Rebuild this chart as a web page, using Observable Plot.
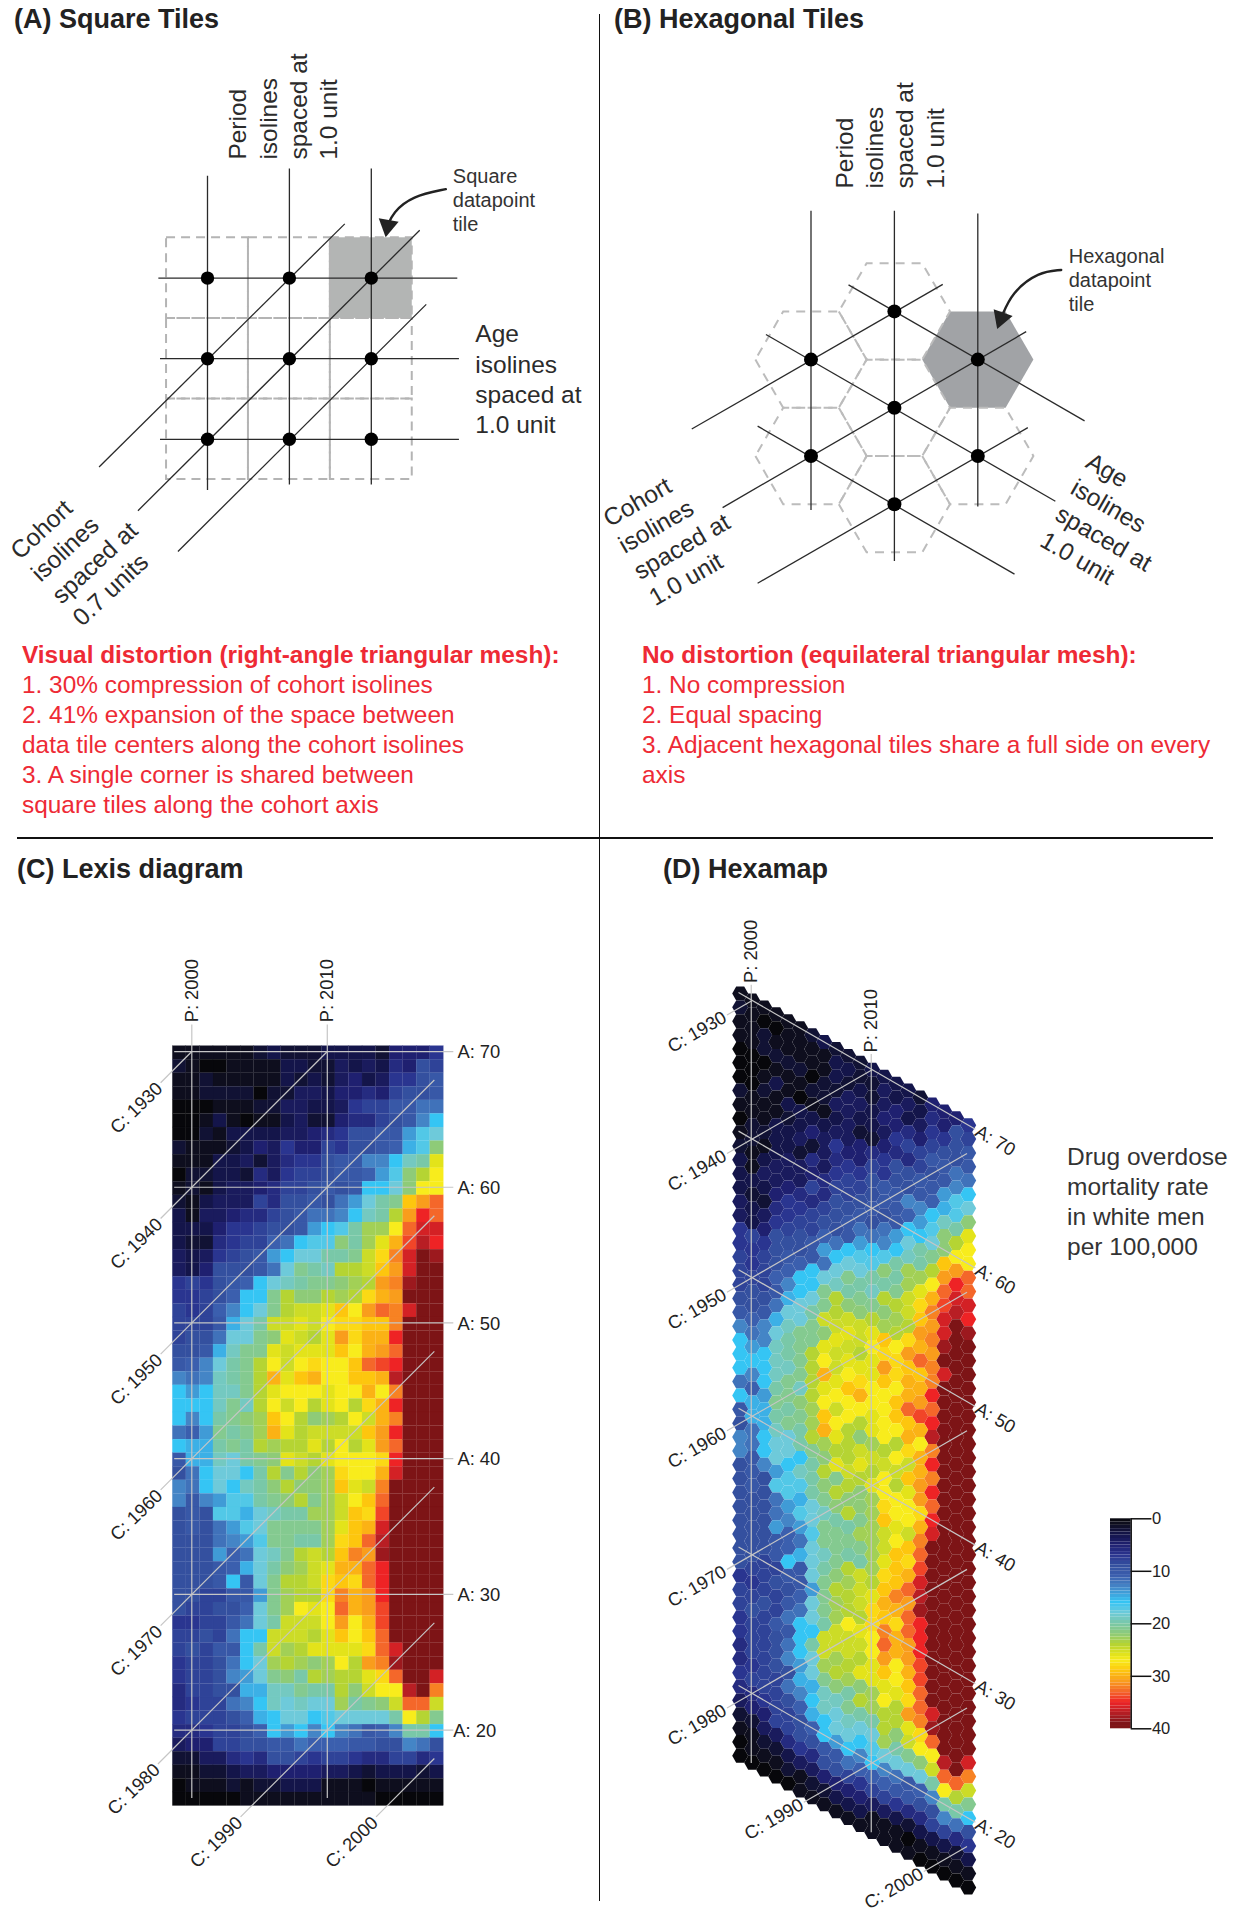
<!DOCTYPE html>
<html><head><meta charset="utf-8">
<script src="https://cdn.jsdelivr.net/npm/d3@7"></script>
<script src="https://cdn.jsdelivr.net/npm/@observablehq/plot@0.6"></script>
<style>
html,body{margin:0;padding:0;background:#fff}
#page{position:relative;width:1242px;height:1920px;overflow:hidden;font-family:"Liberation Sans",Arial,sans-serif}
.abs{position:absolute;white-space:pre}
.head{font-weight:700;font-size:27px;line-height:32px;color:#222}
.red{color:#ee2a35;font-size:24.4px;line-height:30px}
.red b{font-size:24.4px}
.rule{position:absolute;background:#111}
.note{color:#333;font-size:24.5px;line-height:30px}
</style></head><body><div id="page"></div>
<script>
/* ---------- headings & texts ---------- */
const headA="(A) Square Tiles", headB="(B) Hexagonal Tiles", headC="(C) Lexis diagram", headD="(D) Hexamap";
const redTitleA="Visual distortion (right-angle triangular mesh):";
const redLinesA=["1. 30% compression of cohort isolines","2. 41% expansion of the space between","data tile centers along the cohort isolines","3. A single corner is shared between","square tiles along the cohort axis"];
const redTitleB="No distortion (equilateral triangular mesh):";
const redLinesB=["1. No compression","2. Equal spacing","3. Adjacent hexagonal tiles share a full side on every","axis"];
const legendTitle="Drug overdose\nmortality rate\nin white men\nper 100,000";

/* ---------- mortality rate per 100,000, by age (rows) and period (columns) ---------- */
const periods=[1999,2000,2001,2002,2003,2004,2005,2006,2007,2008,2009,2010,2011,2012,2013,2014,2015,2016,2017,2018];
const age70=[1,1,1,1,1,1,2,3,2,2,2,3,3,3,3,2,5,5,5,7];
const age69=[2,1,0,0,1,1,1,1,3,3,2,2,4,3,4,3,6,5,9,8];
const age68=[1,1,2,1,1,1,1,1,3,2,3,2,4,5,3,4,7,7,9,10];
const age67=[1,1,2,2,2,2,0,2,2,4,4,3,5,5,6,5,8,9,9,10];
const age66=[0,0,0,1,1,1,2,2,4,4,3,3,4,7,8,8,10,10,12,12];
const age65=[0,0,1,3,1,0,1,1,3,4,2,2,5,6,6,8,9,10,13,16];
const age64=[0,0,2,1,3,3,3,3,4,4,5,6,7,9,9,10,10,14,17,18];
const age63=[2,1,1,1,2,3,5,4,7,5,5,8,7,9,9,10,11,15,17,22];
const age62=[1,1,1,3,3,4,2,4,6,7,7,9,10,10,13,13,16,19,20,26];
const age61=[0,2,2,3,3,2,6,4,7,8,8,9,10,10,11,14,17,22,24,27];
const age60=[1,2,1,3,4,4,5,6,8,8,9,10,9,10,16,16,18,22,27,27];
const age59=[2,1,3,4,4,4,8,6,9,9,10,9,12,14,18,20,21,29,31,33];
const age58=[3,1,4,4,5,6,6,8,9,10,12,12,13,16,19,20,24,31,35,33];
const age57=[3,3,3,5,7,7,8,9,9,10,14,16,17,20,23,23,27,33,36,36];
const age56=[3,2,2,6,7,8,8,11,12,16,17,17,22,20,23,26,30,34,37,35];
const age55=[4,3,4,7,8,9,10,14,16,18,18,20,20,21,25,28,32,36,40,38];
const age54=[4,3,5,9,9,9,10,12,18,21,20,19,24,24,25,29,31,36,40,40];
const age53=[7,8,7,9,10,11,16,18,19,20,21,21,22,23,24,31,32,38,40,40];
const age52=[7,7,8,9,11,16,16,21,24,22,22,24,23,24,28,30,31,40,40,40];
const age51=[8,7,8,11,13,16,18,21,24,25,25,26,29,27,31,33,32,36,40,40];
const age50=[8,8,8,10,15,18,20,25,25,26,25,27,28,28,29,29,32,40,40,40];
const age49=[8,9,9,12,18,18,21,22,26,25,24,26,31,28,30,30,35,40,40,40];
const age48=[9,9,10,15,19,21,21,26,25,26,26,26,29,27,30,31,33,40,40,40];
const age47=[10,11,13,18,20,21,24,27,25,27,28,27,27,29,33,34,35,39,40,40];
const age46=[13,12,13,19,20,21,24,30,26,29,30,27,27,29,29,30,37,40,40,40];
const age45=[16,14,16,19,19,21,24,26,27,27,27,26,27,27,30,27,32,40,40,40];
const age44=[16,16,16,19,21,19,24,27,25,27,24,26,27,24,28,30,35,40,40,40];
const age43=[16,13,16,20,21,22,23,29,27,24,22,23,24,27,25,30,32,40,40,40];
const age42=[12,11,14,21,20,21,23,30,26,24,25,25,25,25,29,31,35,40,40,40];
const age41=[16,15,15,20,21,20,24,23,24,24,26,24,27,24,26,31,33,40,40,40];
const age40=[10,15,15,19,18,20,21,22,26,25,24,26,27,27,27,28,35,40,40,40];
const age39=[9,12,16,18,18,16,20,24,21,24,22,23,28,27,27,30,36,40,40,40];
const age38=[13,12,16,18,16,19,20,22,24,22,22,23,29,26,25,32,40,40,40,40];
const age37=[13,10,13,14,17,17,20,21,22,24,21,23,25,27,29,33,40,40,40,40];
const age36=[9,10,9,17,17,15,18,19,20,20,23,23,25,29,28,34,40,40,40,40];
const age35=[9,10,9,12,14,17,18,21,21,21,21,23,26,29,30,36,40,40,40,40];
const age34=[9,9,9,12,13,14,17,21,21,20,20,23,28,29,33,37,40,40,40,40];
const age33=[9,9,9,14,11,12,18,19,21,24,25,24,29,32,31,38,40,40,40,40];
const age32=[9,9,9,10,11,15,18,20,22,23,25,26,30,30,33,35,40,40,40,40];
const age31=[9,9,9,10,16,10,18,21,24,24,25,28,29,28,33,35,40,40,40,40];
const age30=[9,9,8,8,10,10,14,21,23,24,24,28,32,30,31,35,40,40,40,40];
const age29=[9,8,8,9,9,11,18,21,23,27,26,27,33,30,31,34,40,40,40,40];
const age28=[7,7,8,8,10,12,18,20,25,25,25,27,31,27,30,34,40,40,40,40];
const age27=[8,8,9,8,12,16,16,25,25,25,24,26,29,27,29,33,40,40,40,40];
const age26=[8,9,8,10,10,16,20,25,23,24,26,26,26,26,28,33,36,40,40,40];
const age25=[7,8,8,9,12,16,18,23,24,23,22,23,27,24,31,32,38,40,40,40];
const age24=[7,8,8,9,13,14,18,21,22,20,24,23,24,24,26,28,33,40,40,36];
const age23=[6,8,8,9,9,15,15,19,19,21,20,20,24,22,25,27,27,37,40,32];
const age22=[6,7,8,8,12,13,16,19,18,19,18,18,23,20,21,22,25,33,33,25];
const age21=[7,8,8,8,9,11,15,16,18,18,16,17,18,18,18,18,20,27,24,21];
const age20=[6,6,7,8,8,9,11,16,14,16,13,16,13,12,10,11,13,20,20,16];
const age19=[4,5,5,8,8,9,9,10,10,12,11,11,11,10,10,9,9,13,12,9];
const age18=[2,2,4,4,6,7,6,9,9,8,7,8,8,7,6,6,8,8,6,7];
const age17=[1,1,2,2,3,4,4,5,5,5,5,4,4,3,2,3,3,3,2,3];
const age16=[0,1,1,1,2,1,2,2,3,3,3,1,1,1,0,1,1,1,1,1];
const age15=[0,0,0,0,0,1,1,1,1,1,1,1,1,1,1,0,0,0,0,0];
const ageRows=[age70,age69,age68,age67,age66,age65,age64,age63,age62,age61,age60,age59,age58,age57,age56,age55,age54,age53,age52,age51,age50,age49,age48,age47,age46,age45,age44,age43,age42,age41,age40,age39,age38,age37,age36,age35,age34,age33,age32,age31,age30,age29,age28,age27,age26,age25,age24,age23,age22,age21,age20,age19,age18,age17,age16,age15];
const cells=ageRows.flatMap((row,i)=>row.map((rate,j)=>({age:70-i,period:periods[j],rate})));

/* ---------- colour scale ---------- */
const colorStops=[0,1,3,5,7,9,11,13,15,16,18,20,22,24,26,27,29,31,33,35,37,39,40];
const colorRamp=["#07070b","#0e0e1e","#14154a","#1f2070","#2a3590","#34509f","#3b5fae","#4485c6","#3cb0e6","#35c5f4","#6ecada","#79c8a8","#8ecb78","#b5d433","#e3e31a","#f8ec1c","#fdc60e","#f99d1c","#f4672a","#ee2325","#b81e24","#7f1317","#7d1416"];
const colorScale={type:"linear",domain:colorStops,range:colorRamp,clamp:true};

/* ---------- isolines of the Lexis panel: [value, first, last] ---------- */
const lexisAges=[70,60,50,40,30,20];
const lexisAgeLabelAt=[2019.5,2019.5,2019.5,2019.5,2019.5,2019.2];
const lexisPeriods=[2000,2010];
const lexisCohorts=[[1930,1997.7,2000],[1940,1997.7,2010],[1950,1997.7,2017.9],[1960,1997.7,2017.9],[1970,1997.7,2017.9],[1980,1997.5,2017.9],[1990,2003.6,2017.9],[2000,2013.6,2017.9]];
/* ---------- isolines of the hexamap panel ---------- */
const hexAges=[70,60,50,40,30,20];
const hexPeriods=[2000,2010];
const hexCohorts=[[1930,1997.9,2000],[1940,1997.9,2010],[1950,1997.9,2017.9],[1960,1997.9,2017.9],[1970,1997.9,2017.9],[1980,1997.9,2017.9],[1990,2004.3,2017.9],[2000,2014.3,2017.9]];
/* ---------- schematic panel A (units: tile steps) ---------- */
const squareCols=[0,1,2], squareRows=[0,1,2];
const squareVert=[[0,-1.27,2.63],[1,-1.36,2.56],[2,-1.36,2.56]];
const squareHoriz=[[0,-0.60,3.05],[1,-0.58,3.07],[2,-0.58,3.07]];
const squareDiag=[[-1.324,2.344,1.676,-0.673],[-0.849,2.886,2.591,-0.593],[-0.361,3.392,2.671,0.326]];
const squareFilled=[2,0];
const squareArrow=[[2.91,-1.104],[2.5,-1.02],[2.26,-0.81],[2.2,-0.65]];
/* ---------- schematic panel B (units: column step, half row step) ---------- */
const hexTiles=[[0,-2],[-1,-1],[0,0],[-1,1],[1,1],[0,2]];
const hexFilled=[1,-1];
const hexNodes=[[0,-2],[-1,-1],[1,-1],[0,0],[-1,1],[1,1],[0,2]];
const hexVert=[[-1,-4.09,2.12],[0,-4.09,3.18],[1,-4.03,2.05]];
const hexDown=[[-0.55,-2.55,2.28,0.27],[-1.54,-1.52,1.93,1.94],[-1.64,0.38,1.44,3.45]];
const hexUp=[[-2.43,0.44,0.58,-2.56],[-2.06,2.07,1.58,-1.58],[-1.64,3.64,1.6,0.41]];
const hexArrow=[[2.0,-2.86],[1.73,-2.82],[1.41,-2.4],[1.28,-1.86]];

/* ---------- helpers ---------- */
const page=document.getElementById("page");
const font='"Liberation Sans",Arial,sans-serif';
function html(cls,left,top,text,extra){const d=document.createElement("div");d.className="abs "+cls;d.style.left=left+"px";d.style.top=top+"px";d.textContent=text;if(extra)Object.assign(d.style,extra);page.appendChild(d);}
function mount(svg,left,top){const d=document.createElement("div");d.style.cssText=`position:absolute;left:${left}px;top:${top}px`;d.appendChild(svg);page.appendChild(d);}
// linear scale whose unit maps to `step` page pixels, value v0 sitting at page pixel p0, for the page span lo..hi
const frame=(v0,p0,step,lo,hi)=>({type:"linear",domain:[v0+(lo-p0)/step,v0+(hi-p0)/step],range:[0,hi-lo],axis:null});
const base=(L,T,R,B)=>({width:R-L,height:B-T,marginTop:0,marginRight:0,marginBottom:0,marginLeft:0,style:{background:"transparent",overflow:"visible",fontFamily:font,maxWidth:"none"}});
const links=(rows,o)=>Plot.link(rows,{x1:d=>d[0],y1:d=>d[1],x2:d=>d[2],y2:d=>d[3],...o});
const inkLine={stroke:"#2a2a2a",strokeWidth:1.3};
const bigText={fontSize:24.5,lineHeight:1.24,lineAnchor:"middle",textAnchor:"start",fill:"#2b2b2b"};
const smallText={fontSize:20,lineHeight:1.2,lineAnchor:"middle",textAnchor:"start",fill:"#333"};
const tick={stroke:"#c6c6c6",strokeWidth:1.2};
const axisText={fontSize:18.4,lineAnchor:"middle",fill:"#222"};

/* ---------- frame rules and HTML text ---------- */
const rules=[[598.6,14,1.8,1887],[17,837,1196,1.8]];
rules.forEach(r=>{const d=document.createElement("div");d.className="rule";d.style.cssText=`left:${r[0]}px;top:${r[1]}px;width:${r[2]}px;height:${r[3]}px`;page.appendChild(d);});
html("head",14,3,headA);html("head",614,3,headB);html("head",17,853,headC);html("head",663,853,headD);
html("red",22,640,redTitleA,{fontWeight:700});
redLinesA.forEach((t,i)=>html("red",22,670+i*30,t));
html("red",642,640,redTitleB,{fontWeight:700});
redLinesB.forEach((t,i)=>html("red",642,670+i*30,t));
html("note",1067,1142,legendTitle);

/* ---------- panel A ---------- */
{
 const L=0,T=40,R=598,B=640;
 const tiles=d3.cross(squareCols,squareRows);
 mount(Plot.plot({...base(L,T,R,B),x:frame(0,207,81.9,L,R),y:frame(0,277.6,80.6,T,B),marks:[
  Plot.rect([squareFilled],{x1:d=>d[0]-.5,x2:d=>d[0]+.5,y1:d=>d[1]-.5,y2:d=>d[1]+.5,fill:"#b3b5b4"}),
  Plot.rect(tiles,{x1:d=>d[0]-.5,x2:d=>d[0]+.5,y1:d=>d[1]-.5,y2:d=>d[1]+.5,fill:"none",stroke:"#b4b4b4",strokeWidth:2,strokeDasharray:"9,6"}),
  links(squareVert.map(d=>[d[0],d[1],d[0],d[2]]),inkLine),
  links(squareHoriz.map(d=>[d[1],d[0],d[2],d[0]]),inkLine),
  links(squareDiag,inkLine),
  Plot.dot(tiles,{x:d=>d[0],y:d=>d[1],r:6.7,fill:"#000"}),
  Plot.line(squareArrow,{x:d=>d[0],y:d=>d[1],curve:"basis",stroke:"#222",strokeWidth:2.4}),
  Plot.dot([squareArrow[3]],{x:d=>d[0],y:d=>d[1],symbol:"triangle",r:7.5,fill:"#222",rotate:190}),
  Plot.text(["Period\nisolines\nspaced at\n1.0 unit"],{x:[0.91],y:[-1.47],rotate:-90,...bigText}),
  Plot.text(["Age\nisolines\nspaced at\n1.0 unit"],{x:[3.27],y:[1.24],...bigText}),
  Plot.text(["Cohort\nisolines\nspaced at\n0.7 units"],{x:[-1.99],y:[3.83],rotate:-43,...bigText}),
  Plot.text(["Square\ndatapoint\ntile"],{x:[2.995],y:[-0.98],...smallText})
 ]}),L,T);
}
/* ---------- panel B ---------- */
{
 const L=601,T=40,R=1242,B=640;
 const hex=(fill,o)=>({x:d=>d[0],y:d=>d[1],symbol:"hexagon",r:48.15,rotate:90,fill,...o});
 mount(Plot.plot({...base(L,T,R,B),x:frame(0,893.9,83.4,L,R),y:frame(0,407.3,48.2,T,B),marks:[
  Plot.dot([hexFilled],hex("#a1a3a6",{})),
  Plot.dot(hexTiles,hex("none",{stroke:"#bcbcbc",strokeWidth:2,strokeDasharray:"9,7"})),
  links(hexVert.map(d=>[d[0],d[1],d[0],d[2]]),inkLine),
  links(hexDown,inkLine),links(hexUp,inkLine),
  Plot.dot(hexNodes,{x:d=>d[0],y:d=>d[1],r:7,fill:"#000"}),
  Plot.line(hexArrow,{x:d=>d[0],y:d=>d[1],curve:"basis",stroke:"#222",strokeWidth:2.4}),
  Plot.dot([hexArrow[3]],{x:d=>d[0],y:d=>d[1],symbol:"triangle",r:7.5,fill:"#222",rotate:200}),
  Plot.text(["Period\nisolines\nspaced at\n1.0 unit"],{x:[-0.07],y:[-4.55],rotate:-90,...bigText}),
  Plot.text(["Age\nisolines\nspaced at\n1.0 unit"],{x:[2.06],y:[1.86],rotate:30,...bigText}),
  Plot.text(["Cohort\nisolines\nspaced at\n1.0 unit"],{x:[-3.2],y:[3.13],rotate:-30,...bigText}),
  Plot.text(["Hexagonal\ndatapoint\ntile"],{x:[2.09],y:[-2.66],...smallText})
 ]}),L,T);
}
/* ---------- panel C ---------- */
{
 const L=0,T=880,R=598,B=1905;
 const ps=2000; const shift=(p,a)=>[p-0.1,a+0.1];
 const ageLines=lexisAges.map(a=>[...shift(1998.7,a),...shift(2019.3,a)]);
 const periodLines=lexisPeriods.map(p=>[...shift(p,15),...shift(p,72)]);
 const cohortLines=lexisCohorts.map(([c,p0,p1])=>[...shift(p0,p0-c),...shift(p1,p1-c)]);
 mount(Plot.plot({...base(L,T,R,B),x:frame(1999,179.1,13.55,L,R),y:frame(70,1052.4,-13.57,T,B),color:colorScale,marks:[
  Plot.rect(cells,{x1:d=>d.period-.5,x2:d=>d.period+.5,y1:d=>d.age-.5,y2:d=>d.age+.5,fill:"rate",stroke:"rate",strokeWidth:0.15}),
  links(ageLines,tick),links(periodLines,tick),links(cohortLines,tick),
  Plot.text(lexisPeriods,{x:p=>p-0.1,y:()=>72.25,text:p=>"P: "+p,rotate:-90,textAnchor:"start",...axisText}),
  Plot.text(lexisAges,{x:(a,i)=>lexisAgeLabelAt[i],y:a=>a+0.05,text:a=>"A: "+a,textAnchor:"start",...axisText}),
  Plot.text(lexisCohorts,{x:d=>d[1]-0.1,y:d=>d[1]-d[0]+0.1,text:d=>"C: "+d[0],rotate:-44,textAnchor:"end",dx:-1,dy:3,...axisText})
 ]}),L,T);
}
/* ---------- panel D ---------- */
{
 const L=601,T=880,R=1242,B=1915;
 const yy=(p,a)=>a-(p-1999)/2;                      // sheared age coordinate of the hexagon lattice
 const pt=(p,a)=>[p,yy(p,a)];
 const ageLines=hexAges.map(a=>[...pt(1998.86,a),...pt(2018.6,a)]);
 const periodLines=hexPeriods.map(p=>[...pt(p-0.08,14.94),...pt(p-0.08,71.1)]);
 const cohortLines=hexCohorts.map(([c,p0,p1])=>[...pt(p0,p0-c),...pt(p1,p1-c)]);
 mount(Plot.plot({...base(L,T,R,B),x:frame(1999,739.7,12,L,R),y:frame(70,993,-13.86,T,B),color:colorScale,marks:[
  Plot.dot(cells,{x:"period",y:d=>yy(d.period,d.age),symbol:"hexagon",r:6.93,rotate:90,fill:"rate"}),
  links(ageLines,tick),links(periodLines,tick),links(cohortLines,tick),
  Plot.text(hexPeriods,{x:p=>p-0.08,y:p=>yy(p,71.25),text:p=>"P: "+p,rotate:-90,textAnchor:"start",...axisText}),
  Plot.text(hexAges,{x:()=>2018.7,y:a=>yy(2018.7,a),text:a=>"A: "+a,rotate:30,textAnchor:"start",...axisText}),
  Plot.text(hexCohorts,{x:d=>d[1],y:d=>yy(d[1],d[1]-d[0]),text:d=>"C: "+d[0],rotate:-30,textAnchor:"end",dx:-2,dy:1,...axisText})
 ]}),L,T);
}
/* ---------- colour legend ---------- */
{
 const legendTicks=[0,10,20,30,40];
 const bands=d3.range(0,40,0.625);
 const T=1290,B=1535;
 mount(Plot.plot({width:130,height:B-T,marginTop:0,marginBottom:0,marginLeft:0,marginRight:60,
  style:{background:"transparent",overflow:"visible",fontFamily:font,maxWidth:"none"},
  x:{type:"linear",domain:[0,1],range:[10,70.7-40+0],axis:null},
  y:{type:"linear",domain:[(1518.3-T)/(-5.25),(1518.3-B)/(-5.25)],range:[0,B-T],axis:null},
  color:colorScale,
  marks:[
   Plot.rect(bands,{x1:()=>0,x2:()=>1,y1:v=>v,y2:v=>v+0.625,fill:v=>v+0.31}),
   Plot.ruleX([1],{y1:()=>0,y2:()=>40,stroke:"#111",strokeWidth:1.5}),
   Plot.ruleY(legendTicks,{x1:()=>1,x2:()=>2.0,stroke:"#111",strokeWidth:1.5}),
   Plot.text(legendTicks,{x:()=>2.0,y:v=>v,text:v=>String(v),textAnchor:"start",fontSize:16.5,fill:"#222"})
  ]}),1100,T);
}
</script></body></html>
